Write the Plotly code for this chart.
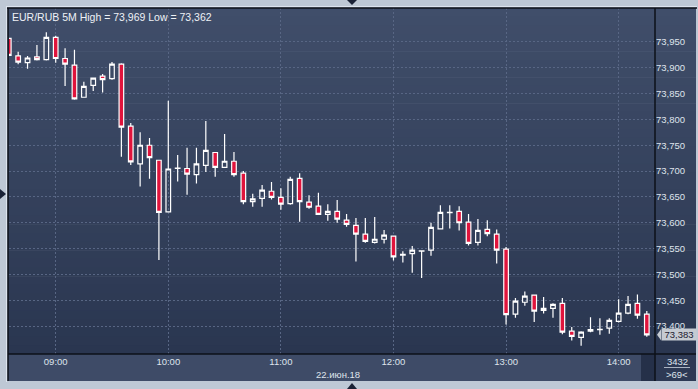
import plotly.graph_objects as go

# ---------------- data ----------------
times = [f"{(515 + 5 * i) // 60:02d}:{(515 + 5 * i) % 60:02d}" for i in range(69)]  # 08:35 .. 14:15

open_ = [73.957, 73.923, 73.910, 73.921, 73.916, 73.959, 73.918, 73.905, 73.843, 73.866,
         73.884, 73.879, 73.907, 73.787, 73.714, 73.750, 73.721, 73.621, 73.705, 73.705,
         73.693, 73.711, 73.736, 73.707, 73.719, 73.696, 73.641, 73.647, 73.661, 73.649,
         73.637, 73.686, 73.640, 73.632, 73.616, 73.622, 73.605, 73.595, 73.578, 73.562,
         73.568, 73.574, 73.537, 73.540, 73.545, 73.547, 73.588, 73.6195, 73.622, 73.601,
         73.562, 73.587, 73.578, 73.549, 73.423, 73.446, 73.460, 73.430, 73.434, 73.444,
         73.390, 73.378, 73.390, 73.393, 73.396, 73.409, 73.425, 73.444, 73.423]
high = [73.957, 73.931, 73.923, 73.944, 73.969, 73.962, 73.938, 73.935, 73.873, 73.880,
        73.888, 73.911, 73.909, 73.793, 73.775, 73.764, 73.721, 73.836, 73.731, 73.745,
        73.745, 73.797, 73.736, 73.772, 73.737, 73.700, 73.656, 73.673, 73.679, 73.667,
        73.689, 73.696, 73.653, 73.658, 73.636, 73.644, 73.617, 73.609, 73.609, 73.611,
        73.586, 73.574, 73.545, 73.555, 73.546, 73.600, 73.634, 73.634, 73.632, 73.617,
        73.607, 73.605, 73.587, 73.553, 73.454, 73.467, 73.460, 73.456, 73.444, 73.454,
        73.398, 73.390, 73.417, 73.415, 73.415, 73.452, 73.458, 73.461, 73.429]
low = [73.924, 73.907, 73.898, 73.914, 73.914, 73.910, 73.865, 73.838, 73.843, 73.855,
       73.852, 73.877, 73.728, 73.712, 73.670, 73.685, 73.528, 73.621, 73.680, 73.654,
       73.676, 73.698, 73.689, 73.707, 73.689, 73.636, 73.631, 73.631, 73.645, 73.625,
       73.635, 73.602, 73.627, 73.616, 73.604, 73.600, 73.592, 73.525, 73.561, 73.560,
       73.560, 73.527, 73.523, 73.503, 73.493, 73.536, 73.587, 73.589, 73.585, 73.556,
       73.556, 73.574, 73.521, 73.403, 73.416, 73.439, 73.408, 73.424, 73.416, 73.384,
       73.372, 73.362, 73.388, 73.383, 73.385, 73.407, 73.423, 73.414, 73.379]
close = [73.924, 73.911, 73.919, 73.916, 73.959, 73.918, 73.907, 73.840, 73.864, 73.880,
         73.877, 73.907, 73.785, 73.718, 73.750, 73.726, 73.620, 73.704, 73.706, 73.694,
         73.714, 73.740, 73.707, 73.719, 73.693, 73.641, 73.646, 73.663, 73.649, 73.636,
         73.684, 73.641, 73.630, 73.616, 73.622, 73.607, 73.597, 73.578, 73.564, 73.568,
         73.576, 73.534, 73.539, 73.547, 73.5455, 73.591, 73.620, 73.620, 73.600, 73.560,
         73.585, 73.579, 73.547, 73.422, 73.448, 73.458, 73.429, 73.434, 73.442, 73.388,
         73.380, 73.388, 73.393, 73.3937, 73.411, 73.425, 73.442, 73.421, 73.383]

hour_ticks = ["09:00", "10:00", "11:00", "12:00", "13:00", "14:00"]
price_ticks = [73.40, 73.45, 73.50, 73.55, 73.60, 73.65, 73.70, 73.75, 73.80, 73.85, 73.90, 73.95]
title_text = "EUR/RUB 5M High = 73,969 Low = 73,362"
last_price = close[-1]
date_text = "22.июн.18"
bar_count_text = "3432"
visible_text = ">69<"

# ---------------- geometry helpers (pixels -> paper) ----------------
W, H = 698, 389
L, R, T, B = 9, 655, 8, 354


def px(x):
    return (x - L) / (R - L)


def py(y):
    return (B - y) / (B - T)


FONT = "Liberation Sans, Arial, sans-serif"
TXT = "#dfe4ec"

fig = go.Figure()
fig.add_trace(go.Candlestick(
    x=times, open=open_, high=high, low=low, close=close,
    increasing=dict(line=dict(color="#ffffff", width=1.2), fillcolor="rgba(0,0,0,0)"),
    decreasing=dict(line=dict(color="#ffffff", width=1.2), fillcolor="#e0143c"),
    whiskerwidth=0, hoverinfo="skip", showlegend=False,
))

shapes = []
# gradient background of the chart panel
top_c = (64, 78, 106)
bot_c = (42, 54, 80)
n = 40
y0, y1 = T, B
for k in range(n):
    t = (k + 0.5) / n
    c = tuple(round(top_c[j] + (bot_c[j] - top_c[j]) * t) for j in range(3))
    ya = y0 + (y1 - y0) * k / n
    yb = y0 + (y1 - y0) * (k + 1) / n + 0.6
    shapes.append(dict(type="rect", xref="paper", yref="paper", layer="below",
                       x0=px(8), x1=px(696), y0=py(ya), y1=py(min(yb, B)),
                       line=dict(width=0), fillcolor="rgb(%d,%d,%d)" % c))
# time axis strip
shapes.append(dict(type="rect", xref="paper", yref="paper", layer="below",
                   x0=px(8), x1=px(641), y0=py(354), y1=py(381),
                   line=dict(width=0), fillcolor="#3e4b67"))
shapes.append(dict(type="rect", xref="paper", yref="paper", layer="below",
                   x0=px(641), x1=px(655), y0=py(354), y1=py(381),
                   line=dict(width=0), fillcolor="#253049"))
shapes.append(dict(type="rect", xref="paper", yref="paper", layer="below",
                   x0=px(655), x1=px(696), y0=py(354), y1=py(381),
                   line=dict(width=0), fillcolor="#2d3954"))
# frame lines
dark = "#0c1018"
shapes.append(dict(type="line", xref="paper", yref="paper", layer="above",
                   x0=px(7), x1=px(697), y0=py(8), y1=py(8), line=dict(color=dark, width=1.5)))
shapes.append(dict(type="line", xref="paper", yref="paper", layer="above",
                   x0=px(8), x1=px(8), y0=py(8), y1=py(381), line=dict(color=dark, width=1.5)))
shapes.append(dict(type="line", xref="paper", yref="paper", layer="above",
                   x0=px(8), x1=px(696), y0=py(354), y1=py(354), line=dict(color=dark, width=1.5)))
shapes.append(dict(type="line", xref="paper", yref="paper", layer="above",
                   x0=px(655), x1=px(655), y0=py(8), y1=py(381), line=dict(color=dark, width=1.5)))
shapes.append(dict(type="line", xref="paper", yref="paper", layer="above",
                   x0=px(6), x1=px(697), y0=py(6.5), y1=py(6.5), line=dict(color="#dde4ee", width=1)))
shapes.append(dict(type="line", xref="paper", yref="paper", layer="above",
                   x0=px(6.5), x1=px(6.5), y0=py(6), y1=py(382), line=dict(color="#dde4ee", width=1)))
# small navigation triangles
tri = "#1a2236"
def tri_path(pts):
    return "M " + " L ".join(f"{px(a)},{py(b)}" for a, b in pts) + " Z"
shapes.append(dict(type="path", xref="paper", yref="paper", layer="above",
                   path=tri_path([(347, 0), (357, 0), (352, 5)]), fillcolor=tri, line=dict(width=0)))
shapes.append(dict(type="path", xref="paper", yref="paper", layer="above",
                   path=tri_path([(347, 389), (357, 389), (352, 383)]), fillcolor=tri, line=dict(width=0)))
shapes.append(dict(type="path", xref="paper", yref="paper", layer="above",
                   path=tri_path([(0, 189), (0, 199), (6, 194)]), fillcolor=tri, line=dict(width=0)))
# separator under bar count
shapes.append(dict(type="line", xref="paper", yref="paper", layer="above",
                   x0=px(664), x1=px(690), y0=py(367.5), y1=py(367.5), line=dict(color="#aab3c2", width=1)))
# current price marker pointer
shapes.append(dict(type="path", xref="paper", yref="y", layer="above",
                   path=f"M {px(657)},{last_price} L {px(661)},{last_price + 0.0105} L {px(661)},{last_price - 0.0105} Z",
                   fillcolor="#c6cbd2", line=dict(width=0)))

annotations = [
    dict(text=title_text, xref="paper", yref="paper", x=px(10), y=py(9), xanchor="left", yanchor="top",
         showarrow=False, font=dict(family=FONT, size=10.5, color="#eef1f6")),
    dict(text=date_text, xref="paper", yref="paper", x=px(338), y=py(374), xanchor="center", yanchor="middle",
         showarrow=False, font=dict(family=FONT, size=9.5, color=TXT)),
    dict(text=bar_count_text, xref="paper", yref="paper", x=px(677), y=py(361.5), xanchor="center", yanchor="middle",
         showarrow=False, font=dict(family=FONT, size=9.5, color=TXT)),
    dict(text=visible_text, xref="paper", yref="paper", x=px(677), y=py(374.5), xanchor="center", yanchor="middle",
         showarrow=False, font=dict(family=FONT, size=9.5, color=TXT)),
    dict(text=f"{last_price:.3f}".replace(".", ","), xref="paper", yref="y", x=px(661), y=last_price,
         xanchor="left", yanchor="middle", showarrow=False, bgcolor="#c6cbd2", borderpad=0,
         width=34, height=11, font=dict(family=FONT, size=9.5, color="#1c2030")),
]

fig.update_layout(
    width=W, height=H,
    margin=dict(l=L, r=W - R, t=T, b=H - B, pad=0),
    paper_bgcolor="#bec8d5",
    plot_bgcolor="rgba(0,0,0,0)",
    separators=", ",
    showlegend=False,
    hovermode=False,
    shapes=shapes,
    annotations=annotations,
    xaxis=dict(
        type="category", range=[0.023, 68.873], rangeslider=dict(visible=False),
        tickmode="array", tickvals=hour_ticks, ticktext=hour_ticks,
        showgrid=True, gridcolor="#586684", gridwidth=1, griddash="2px,2px",
        showline=False, zeroline=False, ticks="",
        tickfont=dict(family=FONT, size=9.5, color=TXT),
    ),
    yaxis=dict(
        side="right", range=[73.3458, 74.0158],
        tickmode="array", tickvals=price_ticks, tickformat=".3f",
        showgrid=True, gridcolor="#586684", gridwidth=1, griddash="2px,2px",
        showline=False, zeroline=False, ticks="",
        tickfont=dict(family=FONT, size=9.5, color=TXT),
    ),
)

fig.write_html("out.html")
